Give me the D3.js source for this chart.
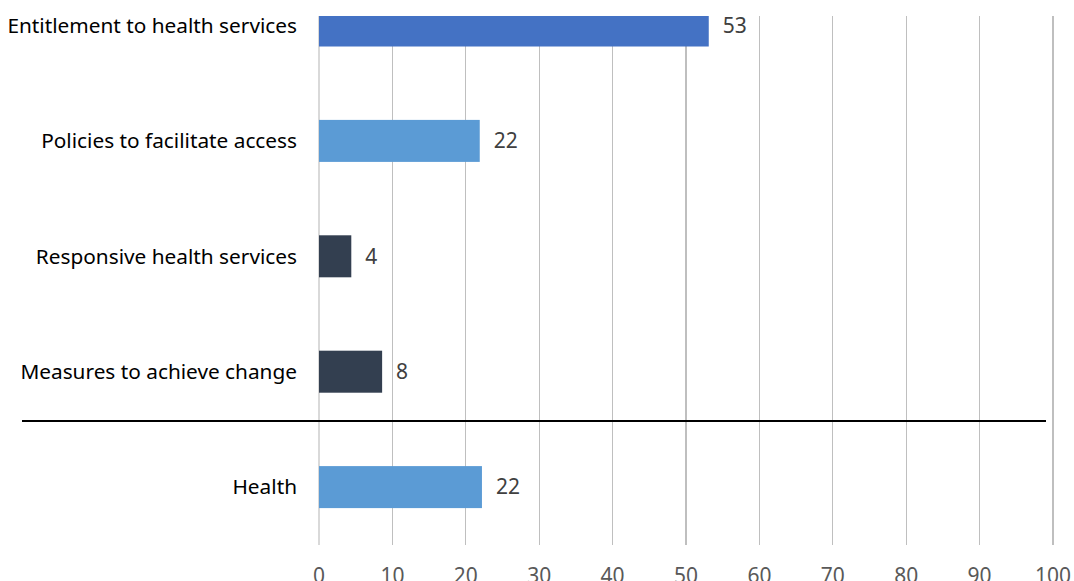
<!DOCTYPE html>
<html>
<head>
<meta charset="utf-8">
<script src="https://cdn.jsdelivr.net/npm/d3@7"></script>
<style>
  body { margin: 0; background: #fff; }
  svg { display: block; font-family: "Noto Sans", sans-serif; }
</style>
</head>
<body>
<div id="chart"></div>
<script>
var width = 1074,
    height = 581

var categories = ["Entitlement to health services", "Policies to facilitate access", "Responsive health services", "Measures to achieve change", "Health"]
var values = [53.1, 21.9, 4.4, 8.6, 22.2]
var valueLabels = ["53", "22", "4", "8", "22"]
var barColors = ["#4472c4", "#5b9bd5", "#333f50", "#333f50", "#5b9bd5"]
var ticks = [0, 10, 20, 30, 40, 50, 60, 70, 80, 90, 100]

var x = d3.scaleLinear()
  .domain([0, 100])
  .range([319, 1053])

var y = d3.scaleBand()
  .domain(categories)
  .range([-32.2, 544.8])
  .paddingInner(0.636)
  .paddingOuter(0.318)

var svg = d3.select("#chart")
  .append("svg")
    .attr("width", width)
    .attr("height", height)

svg.append("clipPath")
    .attr("id", "plotclip")
  .append("rect")
    .attr("x", 0)
    .attr("y", 16)
    .attr("width", width)
    .attr("height", height)

var plot = svg.append("g").attr("clip-path", "url(#plotclip)")

// gridlines
plot.selectAll(".grid")
  .data(ticks)
  .enter()
  .append("line")
    .attr("x1", function(d) { return x(d) })
    .attr("x2", function(d) { return x(d) })
    .attr("y1", y.range()[0])
    .attr("y2", y.range()[1])
    .attr("stroke", function(d) { return d == 0 ? "#d9d9d9" : "#bfbfbf" })
    .attr("stroke-width", 1.3)
    .attr("shape-rendering", "crispEdges")

// bars
plot.selectAll(".bar")
  .data(categories)
  .enter()
  .append("rect")
    .attr("x", x(0))
    .attr("y", function(d) { return y(d) })
    .attr("width", function(d, i) { return x(values[i]) - x(0) })
    .attr("height", y.bandwidth())
    .attr("fill", function(d, i) { return barColors[i] })

// value labels
svg.selectAll(".val")
  .data(categories)
  .enter()
  .append("text")
    .attr("x", function(d, i) { return x(values[i]) + 14 })
    .attr("y", function(d) { return y(d) + y.bandwidth() / 2 })
    .attr("dy", "0.35em")
    .attr("fill", "#404040")
    .style("font-size", "21px")
    .text(function(d, i) { return valueLabels[i] })

// category labels
svg.selectAll(".cat")
  .data(categories)
  .enter()
  .append("text")
    .attr("x", 297)
    .attr("y", function(d) { return y(d) + y.bandwidth() / 2 })
    .attr("dy", "0.35em")
    .attr("text-anchor", "end")
    .attr("fill", "#000")
    .style("font-size", "20.8px")
    .text(function(d) { return d })

// separator between sub-items and total
svg.append("line")
  .attr("x1", 22)
  .attr("x2", 1046)
  .attr("y1", y("Health") - 45)
  .attr("y2", y("Health") - 45)
  .attr("stroke", "#000")
  .attr("stroke-width", 2)

// x axis tick labels
svg.selectAll(".tick")
  .data(ticks)
  .enter()
  .append("text")
    .attr("x", function(d) { return x(d) })
    .attr("y", 583)
    .attr("text-anchor", "middle")
    .attr("fill", "#595959")
    .style("font-size", "21px")
    .text(function(d) { return d })
</script>
</body>
</html>
